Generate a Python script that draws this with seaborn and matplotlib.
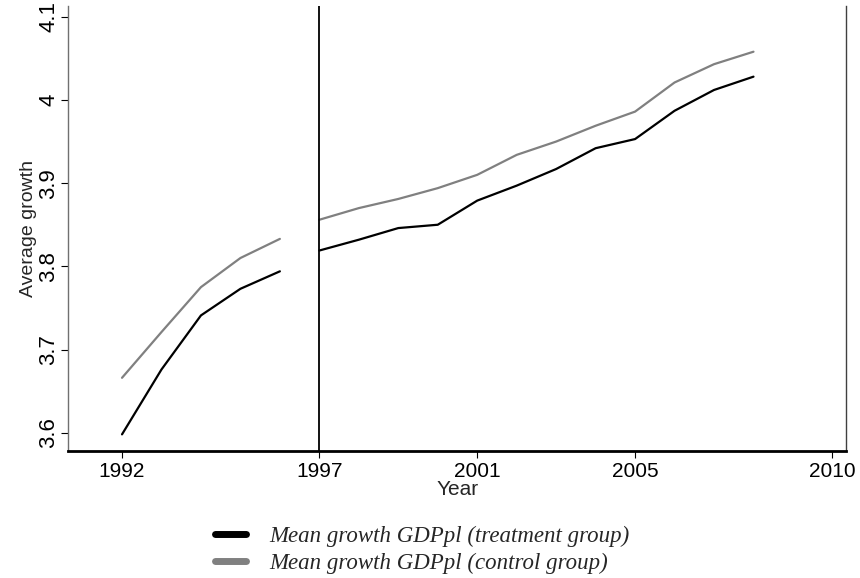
import pandas as pd
import matplotlib
matplotlib.use("Agg")
import matplotlib.pyplot as plt
import seaborn as sns
from matplotlib.lines import Line2D

# Dữ liệu
years_pre = [1992, 1993, 1994, 1995, 1996]
years_post = [1997, 1998, 1999, 2000, 2001, 2002, 2003, 2004, 2005, 2006, 2007, 2008]

treat_pre = [3.598, 3.676, 3.741, 3.773, 3.794]
control_pre = [3.666, 3.721, 3.775, 3.810, 3.833]

treat_post = [3.819, 3.832, 3.846, 3.850, 3.879, 3.897, 3.917, 3.942, 3.953, 3.987, 4.012, 4.028]
control_post = [3.856, 3.870, 3.881, 3.894, 3.910, 3.934, 3.950, 3.969, 3.986, 4.021, 4.043, 4.058]

labels = ["Mean growth GDPpl (treatment group)", "Mean growth GDPpl (control group)"]
x_ticks = [1992, 1997, 2001, 2005, 2010]
y_ticks = [3.6, 3.7, 3.8, 3.9, 4.0, 4.1]
y_ticklabels = ["3.6", "3.7", "3.8", "3.9", "4", "4.1"]

rows = []
for yr, t, c in zip(years_pre, treat_pre, control_pre):
    rows.append((yr, t, labels[0], "pre"))
    rows.append((yr, c, labels[1], "pre"))
for yr, t, c in zip(years_post, treat_post, control_post):
    rows.append((yr, t, labels[0], "post"))
    rows.append((yr, c, labels[1], "post"))
df = pd.DataFrame(rows, columns=["year", "value", "group", "period"])

sns.set_style("white")
plt.rcParams['font.family'] = ['Liberation Sans', 'DejaVu Sans']

colors = {labels[0]: "#000000", labels[1]: "#808080"}

fig = plt.figure(figsize=(8.6, 5.78), dpi=100)
ax = fig.add_axes([0.079, 0.2197, 0.905, 0.77])

sns.lineplot(data=df, x="year", y="value", hue="group", units="period",
             estimator=None, palette=colors, linewidth=1.6, legend=False, ax=ax)

ax.axvline(1997, color="black", linewidth=1.3)

ax.set_xlim(1990.63, 2010.35)
ax.set_ylim(3.578, 4.113)
ax.set_xticks(x_ticks)
ax.set_yticks(y_ticks)
ax.set_yticklabels(y_ticklabels, rotation=90, va="center")
ax.tick_params(axis="both", direction="out", length=5, width=0.8,
               left=True, bottom=True, colors="black")
ax.tick_params(axis="x", labelsize=15, pad=3)
ax.tick_params(axis="y", labelsize=16, pad=1)
ax.set_xlabel("Year", fontsize=15, labelpad=-1)
ax.set_ylabel("Average growth", fontsize=14, labelpad=1)

ax.spines["top"].set_visible(False)
ax.spines["left"].set_color("#707070")
ax.spines["left"].set_linewidth(1.0)
ax.spines["right"].set_color("#404040")
ax.spines["right"].set_linewidth(1.0)
ax.spines["bottom"].set_color("black")
ax.spines["bottom"].set_linewidth(2.0)

handles = [Line2D([0], [0], color=colors[labels[0]], linewidth=5),
           Line2D([0], [0], color=colors[labels[1]], linewidth=5)]
fig.legend(handles, labels, loc="center left", bbox_to_anchor=(0.226, 0.048),
           frameon=False, handlelength=1.35, handletextpad=1.0, labelspacing=0.25,
           prop={"family": "Liberation Serif", "style": "italic", "size": 16.5})

fig.savefig("out.png", dpi=100)
